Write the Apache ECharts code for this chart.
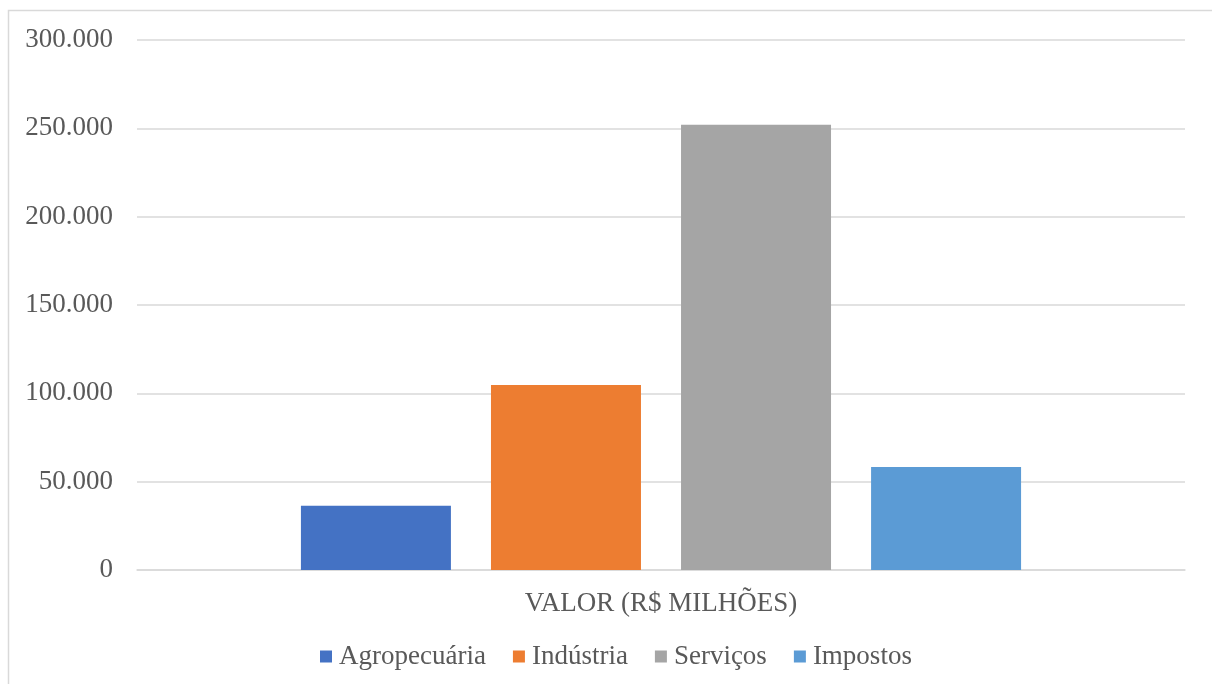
<!DOCTYPE html>
<html>
<head>
<meta charset="utf-8">
<script src="https://cdn.jsdelivr.net/npm/echarts@6/dist/echarts.min.js"></script>
<style>
  html, body { margin: 0; padding: 0; background: #ffffff; }
  #chart { width: 1212px; height: 684px; }
</style>
</head>
<body>
<div id="chart"></div>
<script>
// Category shown under the bars
const categories = ['VALOR (R$ MILHÕES)'];
// Series names (one bar each)
const seriesNames = ['Agropecuária', 'Indústria', 'Serviços', 'Impostos'];
// Values in R$ millions
const agropecuaria = [36400];
const industria = [104700];
const servicos = [252000];
const impostos = [58300];
const seriesValues = [agropecuaria, industria, servicos, impostos];
const seriesColors = ['#4472C4', '#ED7D31', '#A5A5A5', '#5B9BD5'];

const FONT = "'Liberation Serif', 'Times New Roman', serif";
const TEXT = '#595959';
const GRID = '#d9d9d9';
const FS = 27;

function fmt(v) {
  return String(v).replace(/\B(?=(\d{3})+(?!\d))/g, '.');
}

const chart = echarts.init(document.getElementById('chart'), null, { renderer: 'canvas' });

chart.setOption({
  animation: false,
  backgroundColor: '#ffffff',
  textStyle: { fontFamily: FONT },
  graphic: [{
    type: 'rect',
    silent: true,
    shape: { x: 8.5, y: 10.5, width: 1400, height: 900 },
    style: { fill: 'none', stroke: GRID, lineWidth: 1.5 }
  }],
  grid: { left: 137, right: 27, top: 40, bottom: 114, containLabel: false },
  legend: {
    data: seriesNames,
    bottom: 9,
    left: 315,
    icon: 'rect',
    itemWidth: 12,
    itemHeight: 12,
    itemGap: 27,
    textStyle: { fontFamily: FONT, fontSize: FS, color: TEXT, padding: [0, 0, 0, 2] }
  },
  xAxis: {
    type: 'category',
    data: categories,
    axisLine: { show: true, lineStyle: { color: GRID, width: 1.5 } },
    axisTick: { show: false },
    axisLabel: { fontFamily: FONT, fontSize: FS, color: TEXT, margin: 20 }
  },
  yAxis: {
    type: 'value',
    min: 0,
    max: 300000,
    interval: 50000,
    axisLine: { show: false },
    axisTick: { show: false },
    splitLine: { lineStyle: { color: GRID, width: 1.5 } },
    axisLabel: {
      fontFamily: FONT, fontSize: FS, color: TEXT, margin: 24,
      formatter: v => fmt(v)
    }
  },
  series: seriesNames.map((name, i) => ({
    name: name,
    type: 'bar',
    data: seriesValues[i],
    barWidth: 150,
    barGap: '26.7%',
    itemStyle: { color: seriesColors[i] }
  }))
});
</script>
</body>
</html>
